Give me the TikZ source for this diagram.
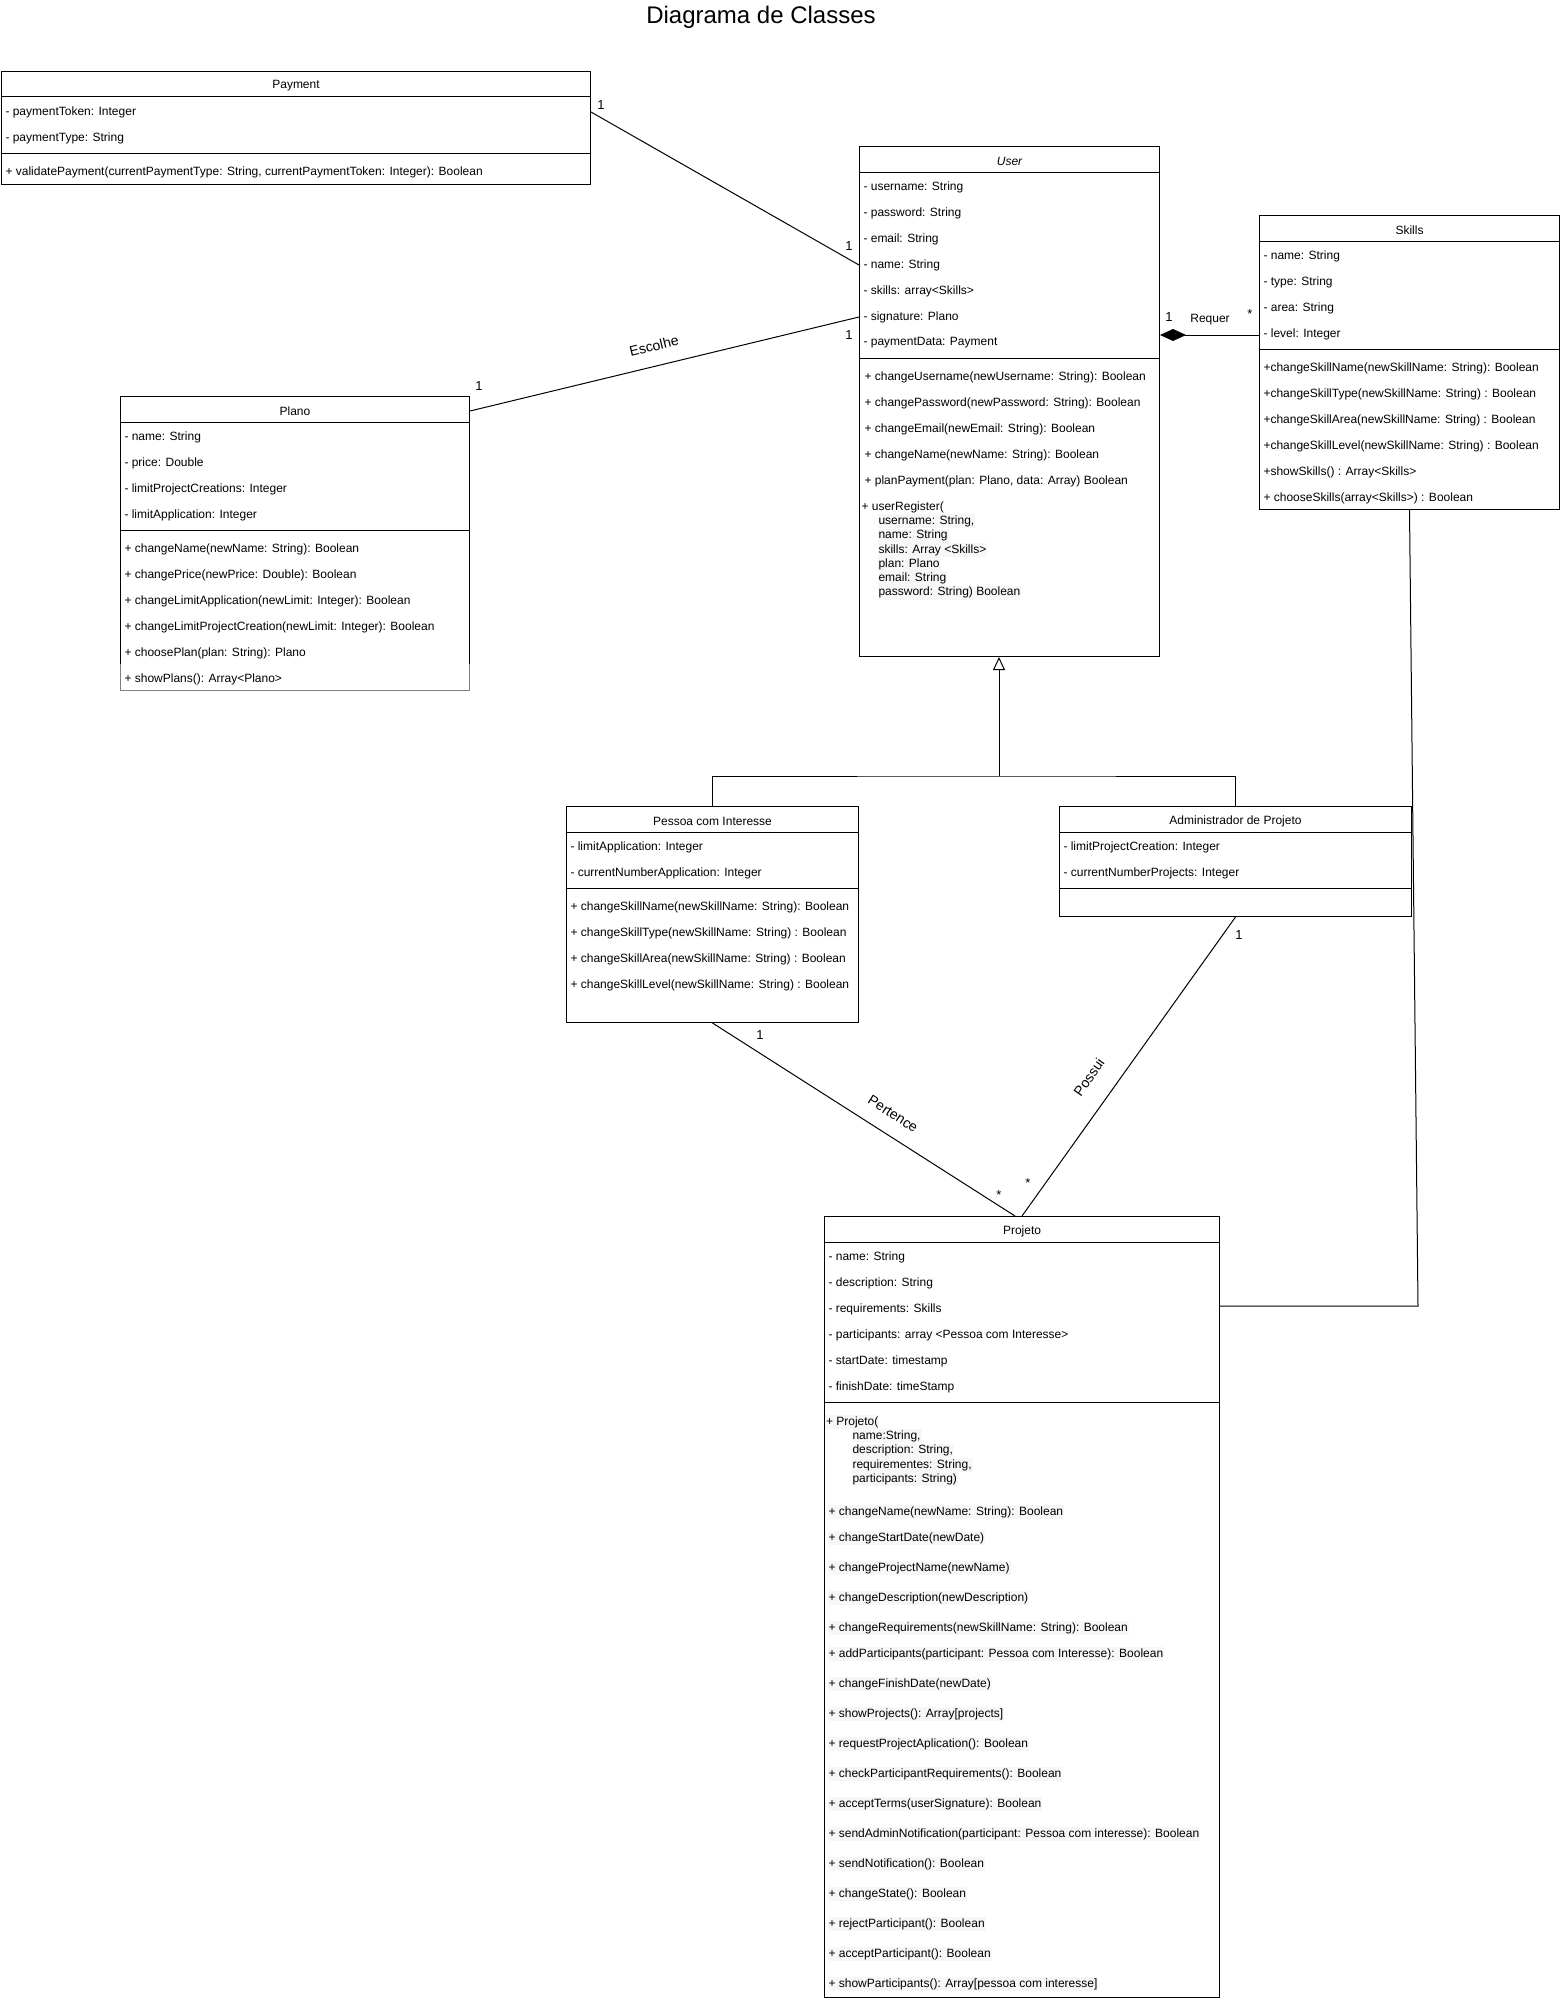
\documentclass[tikz,border=0pt]{standalone}
\usepackage{fontspec}
\setmainfont{Liberation Sans}
\usetikzlibrary{arrows.meta,positioning}

\begin{document}
\begin{tikzpicture}[x=1pt, y=-1pt, line width=1pt,
	every node/.style={font=\fontsize{12}{14}\selectfont},
	classbox/.style={draw, rectangle, inner sep=0pt, anchor=north west},
	hdr/.style={anchor=north, minimum height=26pt, inner sep=0pt, yshift=-1.5pt},
	row/.style={anchor=west, inner sep=0pt, yshift=-2pt},
	hl/.style={anchor=west, inner xsep=1pt, inner ysep=1.5pt, fill=black!3, yshift=-2pt},
	mult/.style={inner sep=0pt, font=\fontsize{13}{15}\selectfont},
	lbl/.style={inner sep=0pt, font=\fontsize{14}{16}\selectfont}]
	\useasboundingbox (0,0) rectangle (1560,1999);
	\node[inner sep=0pt] (title) at (761,17) {\fontsize{24}{28}\selectfont Diagrama de Classes};
	% Payment
	\node[classbox, minimum width=589pt, minimum height=113pt] (payment) at (1,71) {};
	\node[hdr] (payh) at (payment.north) {Payment};
	\draw (payment.north west) ++(0,26) -- ++(589,0);
	\draw (payment.north west) ++(0,82) -- ++(589,0);
	\node[row] (pa1) at (5,110) {- paymentToken: Integer};
	\node[row] (pa2) at (5,136) {- paymentType: String};
	\node[row] (pa3) at (5,170) {+ validatePayment(currentPaymentType: String, currentPaymentToken: Integer): Boolean};
	% User
	\node[classbox, minimum width=300pt, minimum height=510pt] (user) at (859,146) {};
	\node[hdr] (uh) at (user.north) {\itshape User};
	\draw (user.north west) ++(0,26) -- ++(300,0);
	\draw (user.north west) ++(0,212) -- ++(300,0);
	\node[row] (u1) at (863,185) {- username: String};
	\node[row] (u2) at (863,211) {- password: String};
	\node[row] (u3) at (863,237) {- email: String};
	\node[row] (u4) at (863,263) {- name: String};
	\node[row] (u5) at (863,289) {- skills: array<Skills>};
	\node[row] (u6) at (863,315) {- signature: Plano};
	\node[row] (u7) at (863,341) {- paymentData: Payment};
	\node[row] (u8) at (864,375) {+ changeUsername(newUsername: String): Boolean};
	\node[row] (u9) at (864,401) {+ changePassword(newPassword: String): Boolean};
	\node[row] (u10) at (864,427) {+ changeEmail(newEmail: String): Boolean};
	\node[row] (u11) at (864,453) {+ changeName(newName: String): Boolean};
	\node[row] (u12) at (864,479) {+ planPayment(plan: Plano, data: Array) Boolean};
	\node[row] (u13) at (861,505) {+ userRegister(};
	\node[hl] (u14) at (877,519.3) {username: String,};
	\node[hl] (u15) at (877,533.6) {name: String};
	\node[hl] (u16) at (877,547.9) {skills: Array <Skills>};
	\node[hl] (u17) at (877,562.2) {plan: Plano};
	\node[hl] (u18) at (877,576.5) {email: String};
	\node[hl] (u19) at (877,590.8) {password: String) Boolean};
	% Skills
	\node[classbox, minimum width=300pt, minimum height=294pt] (skills) at (1259,215) {};
	\node[hdr] (skh) at (skills.north) {Skills};
	\draw (skills.north west) ++(0,26) -- ++(300,0);
	\draw (skills.north west) ++(0,134) -- ++(300,0);
	\node[row] (sk1) at (1263,254) {- name: String};
	\node[row] (sk2) at (1263,280) {- type: String};
	\node[row] (sk3) at (1263,306) {- area: String};
	\node[row] (sk4) at (1263,332) {- level: Integer};
	\node[row] (sk5) at (1263,366) {+changeSkillName(newSkillName: String): Boolean};
	\node[row] (sk6) at (1263,392) {+changeSkillType(newSkillName: String) : Boolean};
	\node[row] (sk7) at (1263,418) {+changeSkillArea(newSkillName: String) : Boolean};
	\node[row] (sk8) at (1263,444) {+changeSkillLevel(newSkillName: String) : Boolean};
	\node[row] (sk9) at (1263,470) {+showSkills() : Array<Skills>};
	\node[row] (sk10) at (1263,496) {+ chooseSkills(array<Skills>) : Boolean};
	% Plano
	\node[classbox, draw=none, minimum width=349pt, minimum height=294pt] (plano) at (120,396) {};
	\draw (120,664) |- (469,396) -- (469,664);
	\draw[gray] (120,664) |- (469,690) -- (469,664);
	\node[hdr] (plh) at (plano.north) {Plano};
	\draw (plano.north west) ++(0,26) -- ++(349,0);
	\draw (plano.north west) ++(0,134) -- ++(349,0);
	\node[row] (pl1) at (124,435) {- name: String};
	\node[row] (pl2) at (124,461) {- price: Double};
	\node[row] (pl3) at (124,487) {- limitProjectCreations: Integer};
	\node[row] (pl4) at (124,513) {- limitApplication: Integer};
	\node[row] (pl5) at (124,547) {+ changeName(newName: String): Boolean};
	\node[row] (pl6) at (124,573) {+ changePrice(newPrice: Double): Boolean};
	\node[row] (pl7) at (124,599) {+ changeLimitApplication(newLimit: Integer): Boolean};
	\node[row] (pl8) at (124,625) {+ changeLimitProjectCreation(newLimit: Integer): Boolean};
	\node[row] (pl9) at (124,651) {+ choosePlan(plan: String): Plano};
	\node[row] (pl10) at (124,677) {+ showPlans(): Array<Plano>};
	% Pessoa com Interesse
	\node[classbox, minimum width=292pt, minimum height=216pt] (pessoa) at (566,806) {};
	\node[hdr] (peh) at (pessoa.north) {Pessoa com Interesse};
	\draw (pessoa.north west) ++(0,26) -- ++(292,0);
	\draw (pessoa.north west) ++(0,82) -- ++(292,0);
	\node[row] (pe1) at (570,845) {- limitApplication: Integer};
	\node[row] (pe2) at (570,871) {- currentNumberApplication: Integer};
	\node[row] (pe3) at (570,905) {+ changeSkillName(newSkillName: String): Boolean};
	\node[row] (pe4) at (570,931) {+ changeSkillType(newSkillName: String) : Boolean};
	\node[row] (pe5) at (570,957) {+ changeSkillArea(newSkillName: String) : Boolean};
	\node[row] (pe6) at (570,983) {+ changeSkillLevel(newSkillName: String) : Boolean};
	% Administrador de Projeto
	\node[classbox, minimum width=352pt, minimum height=110pt] (admin) at (1059,806) {};
	\node[hdr] (adh) at (admin.north) {Administrador de Projeto};
	\draw (admin.north west) ++(0,26) -- ++(352,0);
	\draw (admin.north west) ++(0,82) -- ++(352,0);
	\node[row] (ad1) at (1063,845) {- limitProjectCreation: Integer};
	\node[row] (ad2) at (1063,871) {- currentNumberProjects: Integer};
	% Projeto
	\node[classbox, minimum width=395pt, minimum height=781pt] (projeto) at (824,1216) {};
	\node[hdr] (prh) at (projeto.north) {Projeto};
	\draw (projeto.north west) ++(0,26) -- ++(395,0);
	\draw (projeto.north west) ++(0,186) -- ++(395,0);
	\node[row] (pr1) at (828,1255) {- name: String};
	\node[row] (pr2) at (828,1281) {- description: String};
	\node[row] (pr3) at (828,1307) {- requirements: Skills};
	\node[row] (pr4) at (828,1333) {- participants: array <Pessoa com Interesse>};
	\node[row] (pr5) at (828,1359) {- startDate: timestamp};
	\node[row] (pr6) at (828,1385) {- finishDate: timeStamp};
	\node[hl] (pr7) at (824.5,1420) {+ Projeto(};
	\node[hl] (pr8) at (851,1434.3) {name:String,};
	\node[hl] (pr9) at (851,1448.6) {description: String,};
	\node[hl] (pr10) at (851,1462.9) {requirementes: String,};
	\node[hl] (pr11) at (851,1477.2) {participants: String)};
	\node[hl] (pr12) at (827,1510) {+ changeName(newName: String): Boolean};
	\node[hl] (pr13) at (827,1536) {+ changeStartDate(newDate)};
	\node[hl] (pr14) at (827,1566) {+ changeProjectName(newName)};
	\node[hl] (pr15) at (827,1596) {+ changeDescription(newDescription)};
	\node[hl] (pr16) at (827,1626) {+ changeRequirements(newSkillName: String): Boolean};
	\node[hl] (pr17) at (827,1652) {+ addParticipants(participant: Pessoa com Interesse): Boolean};
	\node[hl] (pr18) at (827,1682) {+ changeFinishDate(newDate)};
	\node[hl] (pr19) at (827,1712) {+ showProjects(): Array[projects]};
	\node[hl] (pr20) at (827,1742) {+ requestProjectAplication(): Boolean};
	\node[hl] (pr21) at (827,1772) {+ checkParticipantRequirements(): Boolean};
	\node[hl] (pr22) at (827,1802) {+ acceptTerms(userSignature): Boolean};
	\node[hl] (pr23) at (827,1832) {+ sendAdminNotification(participant: Pessoa com interesse): Boolean};
	\node[hl] (pr24) at (827,1862) {+ sendNotification(): Boolean};
	\node[hl] (pr25) at (827,1892) {+ changeState(): Boolean};
	\node[hl] (pr26) at (827,1922) {+ rejectParticipant(): Boolean};
	\node[hl] (pr27) at (827,1952) {+ acceptParticipant(): Boolean};
	\node[hl] (pr28) at (827,1982) {+ showParticipants(): Array[pessoa com interesse]};
	% associations
	\draw (pa1 -| payment.east) -- (u4 -| user.west);
	\node[mult] (m1) at (601,105) {1};
	\node[mult] (m2) at (849,246) {1};
	\draw (plh -| plano.east) -- (u6 -| user.west);
	\node[mult] (m3) at (479,386) {1};
	\node[mult] (m4) at (849,335) {1};
	\node[lbl, rotate=13.6] (esc) at (654,346) {Escolhe};
	\coordinate (req) at (user.east |- 0,335);
	\draw[{Diamond[length=26pt,width=12pt]}-] (req) -- (req -| skills.west);
	\node[mult] (m5) at (1169,317) {1};
	\node[inner sep=0pt] (requer) at (1210,320) {Requer};
	\node[mult] (m6) at (1250,314) {*};
	% heranca
	\coordinate (gen) at (999,776);
	\draw[{Triangle[open,length=13pt,width=12pt]}-] (gen |- user.south) -- (gen);
	\draw (pessoa.north) |- (gen) -| (admin.north);
	\draw (pessoa.south) -- ([xshift=-7pt]projeto.north);
	\node[mult] (m7) at (760,1035) {1};
	\node[lbl, rotate=-32.7] (pert) at (893,1114) {Pertence};
	\node[mult] (m8) at (999,1195) {*};
	\draw (admin.south) -- (projeto.north);
	\node[mult] (m9) at (1239,935) {1};
	\node[lbl, rotate=54.8] (possui) at (1089,1077) {Possui};
	\node[mult] (m10) at (1028,1183) {*};
	\coordinate (skb) at (1418,1306);
	\draw (skills.south) -- (skb) -- (skb -| projeto.east);
\end{tikzpicture}
\end{document}
